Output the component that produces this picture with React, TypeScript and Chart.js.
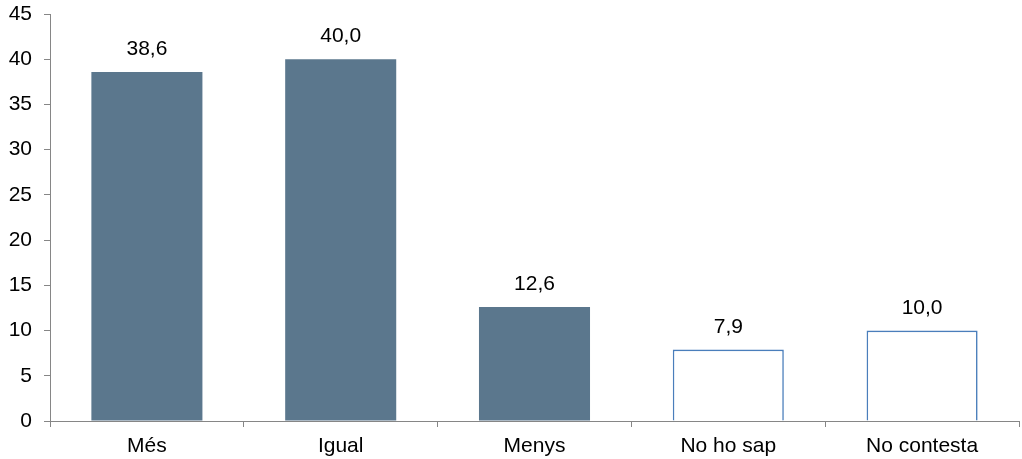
import React, { useEffect, useRef } from "react";
import { Chart, registerables } from "chart.js";

Chart.register(...registerables);

const categories = ["Més", "Igual", "Menys", "No ho sap", "No contesta"];
const values = [38.6, 40.0, 12.6, 7.9, 10.0];
const fillColors = ["#5B778D", "#5B778D", "#5B778D", "#FFFFFF", "#FFFFFF"];
const borderColors = ["#5B778D", "#5B778D", "#5B778D", "#4A7EBB", "#4A7EBB"];
const yTicks = [0, 5, 10, 15, 20, 25, 30, 35, 40, 45];

const FONT = "'Liberation Sans', Arial, sans-serif";
const FS = 21;

const valueLabels = {
  id: "valueLabels",
  afterDatasetsDraw(chart: any) {
    const ctx = chart.ctx;
    const meta = chart.getDatasetMeta(0);
    ctx.save();
    ctx.font = `${FS}px ${FONT}`;
    ctx.fillStyle = "#000";
    ctx.textAlign = "center";
    ctx.textBaseline = "alphabetic";
    meta.data.forEach((bar: any, i: number) => {
      const txt = values[i].toFixed(1).replace(".", ",");
      ctx.fillText(txt, bar.x, bar.y - 17);
    });
    ctx.restore();
  },
};

export default function App() {
  const ref = useRef<HTMLCanvasElement>(null);
  useEffect(() => {
    document.body.style.margin = "0";
    const chart = new Chart(ref.current!, {
      type: "bar",
      data: {
        labels: categories,
        datasets: [
          {
            data: values,
            backgroundColor: fillColors,
            borderColor: borderColors,
            borderWidth: [0, 0, 0, 1.6, 1.6],
            barPercentage: 0.573,
            categoryPercentage: 1,
          },
        ],
      },
      options: {
        responsive: false,
        animation: false,
        layout: { padding: { top: 14, right: 3, left: 0, bottom: 0 } },
        plugins: { legend: { display: false }, tooltip: { enabled: false } },
        scales: {
          x: {
            grid: {
              drawOnChartArea: false,
              tickLength: 6,
              color: "#868686",
              offset: true,
            },
            border: { color: "#868686", width: 1 },
            ticks: {
              color: "#000",
              font: { family: FONT, size: FS },
              padding: 7,
              maxRotation: 0,
            },
            afterFit: (s: any) => {
              s.height = 38;
              s.paddingLeft = 0;
              s.paddingRight = 0;
            },
          },
          y: {
            min: 0,
            max: 45,
            afterBuildTicks: (s: any) => {
              s.ticks = yTicks.map((v) => ({ value: v }));
            },
            grid: {
              drawOnChartArea: false,
              tickLength: 6,
              color: "#868686",
            },
            border: { color: "#868686", width: 1 },
            ticks: {
              color: "#000",
              font: { family: FONT, size: FS },
              padding: 12,
            },
            afterFit: (s: any) => {
              s.width = 50;
              s.paddingTop = 0;
              s.paddingBottom = 0;
            },
          },
        },
      },
      plugins: [valueLabels],
    });
    return () => chart.destroy();
  }, []);
  return (
    <div style={{ width: 1022, height: 459 }}>
      <canvas ref={ref} width={1022} height={459} />
    </div>
  );
}
